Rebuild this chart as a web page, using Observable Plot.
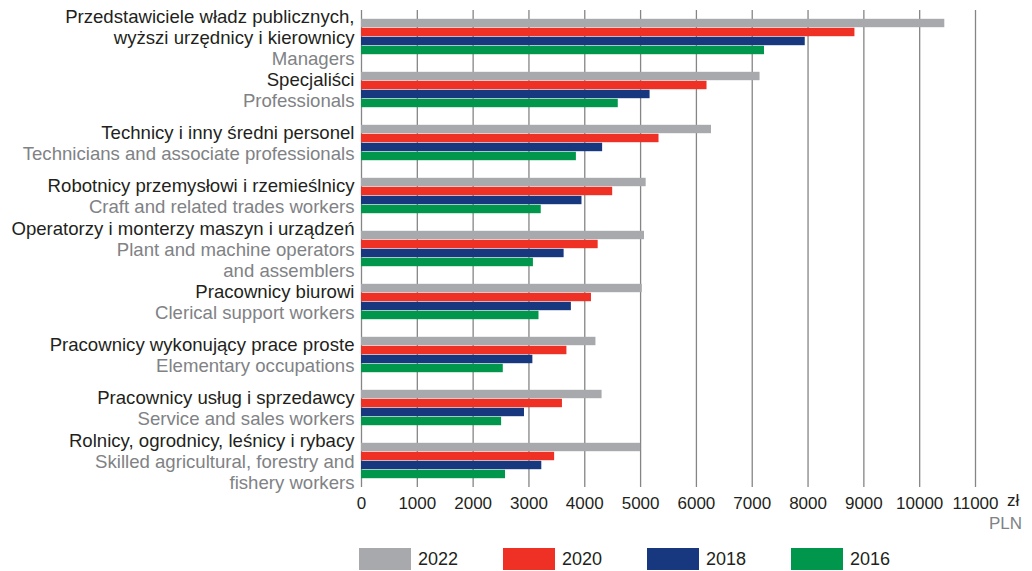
<!DOCTYPE html>
<html><head><meta charset="utf-8">
<script src="https://cdn.jsdelivr.net/npm/d3@7"></script>
<script src="https://cdn.jsdelivr.net/npm/@observablehq/plot@0.6"></script>
<style>
body{margin:0;background:#fff;font-family:"Liberation Sans",Arial,sans-serif;}
#wrap{position:relative;width:1032px;height:571px;overflow:hidden;}
#wrap svg{position:absolute;left:0;top:0;}
.unit{position:absolute;font-size:17px;line-height:17px;}
.leg{position:absolute;top:548px;height:22px;display:flex;align-items:center;font-size:18px;color:#231f20;}
.leg span.sw{display:inline-block;width:52px;height:22px;margin-right:7px;}
</style></head><body><div id="wrap"></div>
<script>
const categories = ["managers","professionals","technicians","craft","operators","clerical","elementary","service","agricultural"];
const labelsPL = [
  ["Przedstawiciele władz publicznych,","wyższi urzędnicy i kierownicy"],
  ["Specjaliści"],
  ["Technicy i inny średni personel"],
  ["Robotnicy przemysłowi i rzemieślnicy"],
  ["Operatorzy i monterzy maszyn i urządzeń"],
  ["Pracownicy biurowi"],
  ["Pracownicy wykonujący prace proste"],
  ["Pracownicy usług i sprzedawcy"],
  ["Rolnicy, ogrodnicy, leśnicy i rybacy"]
];
const labelsEN = [
  ["Managers"],
  ["Professionals"],
  ["Technicians and associate professionals"],
  ["Craft and related trades workers"],
  ["Plant and machine operators","and assemblers"],
  ["Clerical support workers"],
  ["Elementary occupations"],
  ["Service and sales workers"],
  ["Skilled agricultural, forestry and","fishery workers"]
];
const years = ["2022","2020","2018","2016"];
const values2022 = [10450, 7140, 6270, 5100, 5070, 5030, 4200, 4310, 5000];
const values2020 = [8840, 6190, 5330, 4500, 4240, 4120, 3680, 3600, 3460];
const values2018 = [7950, 5170, 4320, 3950, 3630, 3760, 3070, 2920, 3230];
const values2016 = [7220, 4600, 3850, 3220, 3080, 3180, 2540, 2510, 2580];
const colors = ["#a7a9ac","#ee3124","#17387f","#00974c"];
const xTicks = [0,1000,2000,3000,4000,5000,6000,7000,8000,9000,10000,11000];
const unitPL = "zł";
const unitEN = "PLN";

const series = [values2022, values2020, values2018, values2016];
const bars = [];
categories.forEach((c, i) => years.forEach((y, j) => bars.push({cat: c, year: y, value: series[j][i]})));

const NB = "\u00a0";
const labels = categories.map((c, i) => {
  const p = labelsPL[i], e = labelsEN[i];
  return {
    cat: c,
    pl: [...p, ...Array(e.length).fill(NB)].join("\n"),
    en: [...Array(p.length).fill(NB), ...e].join("\n")
  };
});

const LFS = 18.6;
const chart = Plot.plot({
  width: 1032,
  height: 538,
  marginLeft: 361,
  marginRight: 57,
  marginTop: 9.5,
  marginBottom: 51.5,
  style: {fontSize: "17px", fontFamily: "'Liberation Sans', Arial, sans-serif", color: "#231f20", background: "#fff"},
  x: {domain: [0, 11000], ticks: xTicks, tickSize: 0, tickPadding: 9, label: null, tickFormat: d => String(d)},
  y: {domain: years, paddingInner: 0, paddingOuter: 0.944, axis: null},
  fy: {domain: categories, padding: 0, axis: null},
  color: {domain: years, range: colors},
  marks: [
    Plot.gridX(xTicks, {stroke: "#858585", strokeOpacity: 1, strokeWidth: 1.3}),
    Plot.barX(bars, {x: "value", y: "year", fy: "cat", fill: "year", inset: 0, insetTop: 0.3, insetBottom: 0.3}),
    Plot.text(labels, {fy: "cat", text: "pl", frameAnchor: "left", textAnchor: "end", dx: -7, fill: "#231f20", fontSize: LFS, lineHeight: 21/LFS}),
    Plot.text(labels, {fy: "cat", text: "en", frameAnchor: "left", textAnchor: "end", dx: -7, fill: "#808285", fontSize: LFS, lineHeight: 21/LFS})
  ]
});
const wrap = document.getElementById("wrap");
wrap.appendChild(chart);

const u1 = document.createElement("div");
u1.className = "unit"; u1.style.left = "1007px"; u1.style.top = "492px"; u1.style.color = "#231f20"; u1.textContent = unitPL;
wrap.appendChild(u1);
const u2 = document.createElement("div");
u2.className = "unit"; u2.style.right = "10px"; u2.style.top = "515px"; u2.style.color = "#808285"; u2.textContent = unitEN;
wrap.appendChild(u2);

years.forEach((y, i) => {
  const d = document.createElement("div");
  d.className = "leg";
  d.style.left = (359 + i * 144) + "px";
  d.innerHTML = `<span class="sw" style="background:${colors[i]}"></span><span>${y}</span>`;
  wrap.appendChild(d);
});
</script></body></html>
